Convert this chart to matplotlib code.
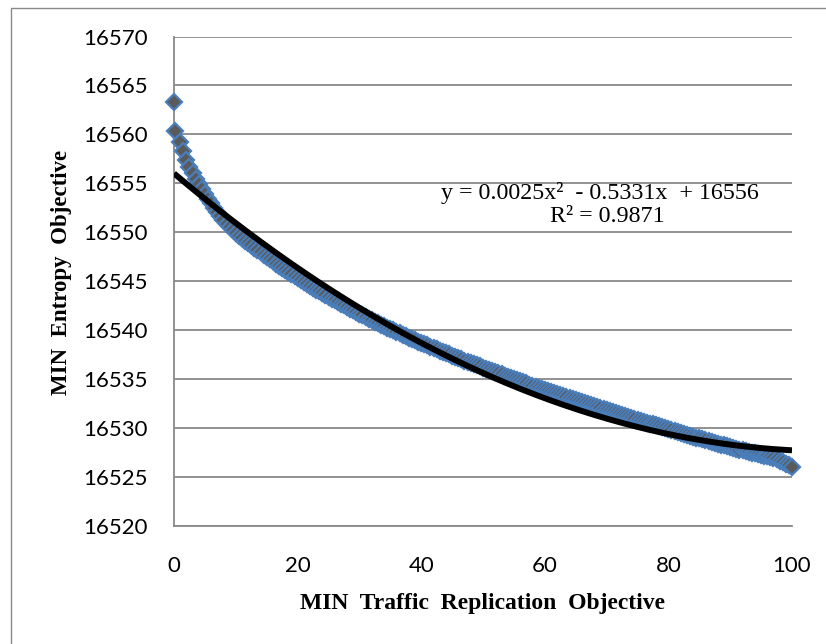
import numpy as np
import matplotlib
matplotlib.use("Agg")
import matplotlib.pyplot as plt
from matplotlib.patches import Rectangle

# ---- data ----
x_start = [0.0, 0.2]
x_grid = list(np.arange(1.0, 100.01, 0.5))
traffic = x_start + x_grid

entropy = [
    16563.30, 16560.30,
    16559.17, 16558.31, 16557.39, 16556.68, 16556.02, 16555.41, 16554.91, 16554.40,
    16553.90, 16553.39, 16552.94, 16552.49, 16552.04, 16551.64, 16551.25, 16550.87,
    16550.52, 16550.21, 16549.92, 16549.65, 16549.39, 16549.13, 16548.88, 16548.64,
    16548.39, 16548.16, 16547.93, 16547.70, 16547.47, 16547.24, 16547.01, 16546.78,
    16546.56, 16546.34, 16546.11, 16545.90, 16545.69, 16545.49, 16545.29, 16545.09,
    16544.89, 16544.69, 16544.50, 16544.31, 16544.12, 16543.93, 16543.75, 16543.56,
    16543.39, 16543.21, 16543.03, 16542.85, 16542.68, 16542.51, 16542.33, 16542.16,
    16541.99, 16541.82, 16541.66, 16541.49, 16541.33, 16541.16, 16541.00, 16540.84,
    16540.69, 16540.54, 16540.38, 16540.23, 16540.08, 16539.94, 16539.79, 16539.64,
    16539.50, 16539.36, 16539.22, 16539.09, 16538.95, 16538.81, 16538.68, 16538.54,
    16538.41, 16538.27, 16538.14, 16538.01, 16537.88, 16537.75, 16537.62, 16537.50,
    16537.37, 16537.24, 16537.12, 16536.99, 16536.87, 16536.74, 16536.62, 16536.50,
    16536.38, 16536.26, 16536.15, 16536.02, 16535.90, 16535.79, 16535.67, 16535.55,
    16535.44, 16535.32, 16535.21, 16535.10, 16534.99, 16534.87, 16534.76, 16534.64,
    16534.53, 16534.41, 16534.30, 16534.19, 16534.08, 16533.97, 16533.86, 16533.75,
    16533.64, 16533.54, 16533.43, 16533.32, 16533.22, 16533.11, 16533.01, 16532.91,
    16532.81, 16532.71, 16532.61, 16532.50, 16532.40, 16532.30, 16532.20, 16532.09,
    16531.99, 16531.89, 16531.78, 16531.68, 16531.58, 16531.48, 16531.39, 16531.29,
    16531.20, 16531.10, 16531.01, 16530.92, 16530.83, 16530.73, 16530.62, 16530.52,
    16530.42, 16530.33, 16530.23, 16530.13, 16530.04, 16529.94, 16529.85, 16529.75,
    16529.65, 16529.55, 16529.46, 16529.36, 16529.27, 16529.17, 16529.08, 16528.99,
    16528.90, 16528.81, 16528.71, 16528.62, 16528.53, 16528.44, 16528.36, 16528.27,
    16528.19, 16528.10, 16528.02, 16527.94, 16527.85, 16527.77, 16527.68, 16527.60,
    16527.52, 16527.45, 16527.37, 16527.29, 16527.22, 16527.14, 16527.06, 16526.99,
    16526.91, 16526.84, 16526.60, 16526.45, 16526.30, 16526.15, 16526.00,
]

trend_coef = [0.0025, -0.5331, 16556]   # y = 0.0025x^2 - 0.5331x + 16556
r_squared = 0.9871

x_ticks = [0, 20, 40, 60, 80, 100]
y_ticks = [16520, 16525, 16530, 16535, 16540, 16545, 16550, 16555, 16560, 16565, 16570]

x_label = "MIN  Traffic  Replication  Objective"
y_label = "MIN  Entropy  Objective"
eq_text = "y = 0.0025x\u00b2  - 0.5331x  + 16556"
r2_text = "R\u00b2 = 0.9871"

# ---- figure ----
W, H = 826, 644
fig = plt.figure(figsize=(W / 100, H / 100), dpi=100)
fig.patch.set_facecolor("white")

def fx(px):
    return px / W

def fy(py):
    return 1 - py / H

# chart-area border (only left/top visible in the crop)
fig.patches.append(Rectangle((fx(11), fy(700)), fx(900), fy(8) - fy(700),
                             transform=fig.transFigure, fill=False,
                             edgecolor="#8a8a8a", linewidth=1.0))

ax = fig.add_axes([fx(174), fy(525.5), fx(792) - fx(174), fy(36.5) - fy(525.5)])
ax.set_xlim(0, 100)
ax.set_ylim(16520, 16570)
ax.set_xticks(x_ticks)
ax.set_yticks(y_ticks)
ax.set_xticklabels([str(t) for t in x_ticks])
ax.set_yticklabels([str(t) for t in y_ticks])

grid_col = "#898989"
ax.yaxis.grid(True, color=grid_col, linewidth=1.3)
ax.xaxis.grid(False)
ax.set_axisbelow(True)
for s in ["top", "right"]:
    ax.spines[s].set_visible(False)
for s in ["left", "bottom"]:
    ax.spines[s].set_color(grid_col)
    ax.spines[s].set_linewidth(1.3)

ax.tick_params(axis="both", length=0, labelsize=16, colors="black")
ax.tick_params(axis="y", pad=19)
ax.tick_params(axis="x", pad=22)
for lab in ax.get_xticklabels() + ax.get_yticklabels():
    lab.set_fontfamily("Lato")

ax.plot(traffic, entropy, linestyle="none", marker="D", markersize=8.6,
        markerfacecolor="#5a5a5a", markeredgecolor="#4a7ebb",
        markeredgewidth=1.6, clip_on=False, zorder=3)

xt = np.linspace(0, 100, 300)
ax.plot(xt, np.polyval(trend_coef, xt), color="black", linewidth=4.3,
        solid_capstyle="butt", zorder=4)

fig.text(fx(441), fy(193), eq_text, family="Liberation Serif", fontsize=17.3,
         ha="left", va="center")
fig.text(fx(607), fy(217), r2_text, family="Liberation Serif", fontsize=17.3,
         ha="center", va="center")

fig.text(fx(483), fy(603), x_label, family="Liberation Serif", fontsize=17,
         fontweight="bold", ha="center", va="center")
fig.text(fx(62), fy(272), y_label, family="Liberation Serif", fontsize=16.5,
         fontweight="bold", ha="center", va="center", rotation=90)

fig.savefig("out.png", dpi=100)
